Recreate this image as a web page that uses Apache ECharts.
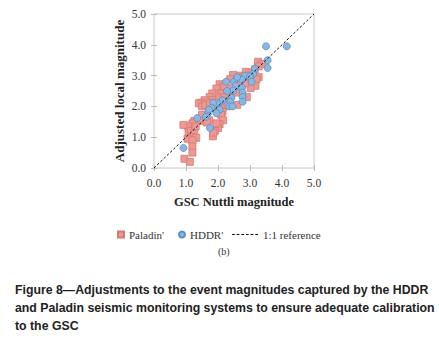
<!DOCTYPE html>
<html><head><meta charset="utf-8">
<script src="https://cdn.jsdelivr.net/npm/echarts@6/dist/echarts.min.js"></script>
<style>html,body{margin:0;padding:0;background:#fff;}#c{width:439px;height:351px;}</style>
</head><body><div id="c"></div>
<script>
const xTicks = [0, 1, 2, 3, 4, 5];
const paladin = [[3.25,3.45],[3.37,3.38],[3.27,3.3],[3.15,3.2],[2.87,3.12],[2.65,3.0],[2.47,3.02],[2.95,2.88],[3.27,2.95],[3.2,2.88],[3.17,2.67],[3.02,2.6],[2.63,2.78],[2.38,2.88],[2.05,2.72],[2.14,2.62],[2.3,2.6],[1.95,2.58],[2.1,2.42],[1.93,2.32],[1.82,2.42],[1.74,2.3],[1.82,2.2],[1.58,2.2],[1.47,2.12],[1.4,2.1],[1.5,2.0],[1.6,2.05],[1.98,2.0],[2.16,1.96],[2.14,1.83],[2.1,1.72],[2.16,1.55],[2.05,1.42],[2.0,1.3],[1.9,1.2],[1.84,1.03],[1.85,1.15],[1.72,1.55],[1.65,1.48],[1.5,1.72],[1.42,1.53],[1.26,1.53],[1.2,1.45],[1.05,1.37],[0.92,1.4],[1.08,1.17],[1.15,1.2],[1.26,1.14],[1.18,1.0],[1.32,0.98],[1.05,0.95],[1.2,0.9],[1.2,0.7],[1.2,0.5],[0.95,0.3],[1.12,0.2],[2.55,2.55],[2.4,2.4],[2.85,2.75],[2.2,2.3],[2.9,2.3],[2.6,2.05],[1.75,2.1],[2.3,2.05],[2.8,2.95],[2.6,2.45],[3.05,3.1],[2.2,2.65],[1.3,1.35],[1.95,1.45]];
const hddr = [[3.5,3.95],[4.15,3.95],[3.55,3.5],[3.55,3.25],[3.15,3.22],[3.1,3.05],[2.85,3.0],[3.0,2.98],[2.75,2.87],[3.05,2.8],[2.5,2.8],[2.25,2.8],[2.75,2.6],[2.55,2.68],[2.48,2.52],[2.28,2.5],[2.77,2.45],[2.77,2.3],[2.77,2.15],[2.42,2.28],[2.38,2.15],[2.35,2.0],[2.45,2.0],[2.03,2.1],[1.85,2.12],[2.05,1.9],[1.95,1.78],[1.8,1.95],[1.68,1.77],[1.72,1.9],[1.62,1.66],[1.35,1.62],[1.75,1.3],[0.92,0.65],[2.15,2.2],[2.6,2.95]];
const refLine = [[0,0],[5,5]];
const seriesNames = ["Paladin'", "HDDR'", "1:1 reference"];
const xTitle = 'GSC Nuttli magnitude';
const yTitle = 'Adjusted local magnitude';
const captionLines = ['Figure 8\u2014Adjustments to the event magnitudes captured by the HDDR','and Paladin seismic monitoring systems to ensure adequate calibration','to the GSC'];

const serif = 'Liberation Serif';
const chart = echarts.init(document.getElementById('c'), null, {renderer: 'svg'});
const axisCommon = {
  type: 'value', min: 0, max: 5, interval: 1,
  axisLine: {show: false},
  axisTick: {show: true, inside: true, length: 3, lineStyle: {color: '#bbbbbb'}},
  splitLine: {show: false}
};
const legendText = {fontFamily: serif, fontSize: 11, color: '#333'};
const legendTop = 224;
chart.setOption({
  animation: false,
  grid: {left: 154, top: 14, width: 160, height: 154, show: true, borderColor: '#c8c8c8', borderWidth: 1},
  xAxis: [
    Object.assign({}, axisCommon, {position: 'bottom', name: xTitle, nameLocation: 'middle', nameGap: 27,
      nameTextStyle: {fontFamily: serif, fontWeight: 'bold', fontSize: 12.5, color: '#222'},
      axisLabel: {formatter: v => v.toFixed(1), fontFamily: serif, fontSize: 11.5, color: '#333', margin: 9}}),
    Object.assign({}, axisCommon, {position: 'top', axisLabel: {show: false}})
  ],
  yAxis: [
    Object.assign({}, axisCommon, {position: 'left', name: yTitle, nameLocation: 'middle', nameGap: 28,
      nameTextStyle: {fontFamily: serif, fontWeight: 'bold', fontSize: 13, color: '#222'},
      axisLabel: {formatter: v => v.toFixed(1), fontFamily: serif, fontSize: 11.5, color: '#333', margin: 8}}),
    Object.assign({}, axisCommon, {position: 'right', axisLabel: {show: false}})
  ],
  legend: [
    {left: 112, top: legendTop, itemWidth: 6, itemHeight: 6, itemGap: 6, textStyle: legendText,
      data: [{name: seriesNames[0], icon: 'rect'}]},
    {left: 173, top: legendTop, itemWidth: 6, itemHeight: 6, itemGap: 6, textStyle: legendText,
      data: [{name: seriesNames[1], icon: 'circle'}]},
    {left: 227, top: legendTop, itemWidth: 26, itemHeight: 1.2, textStyle: legendText,
      data: [{name: seriesNames[2], icon: 'path://M0 0h3v1h-3zM5 0h3v1h-3zM10 0h3v1h-3zM15 0h3v1h-3zM20 0h3v1h-3zM25 0h3v1h-3z'}]}
  ],
  series: [
    {name: seriesNames[0], type: 'scatter', data: paladin, symbol: 'rect', symbolSize: 7,
      itemStyle: {color: '#ec9994', borderColor: '#d97871', borderWidth: 0.8, opacity: 1}},
    {name: seriesNames[1], type: 'scatter', data: hddr, symbol: 'circle', symbolSize: 7,
      itemStyle: {color: '#8ab6e0', borderColor: '#5b8ec6', borderWidth: 0.8, opacity: 1}},
    {name: seriesNames[2], type: 'line', data: refLine, symbol: 'none', z: 5,
      lineStyle: {color: '#111', width: 1, type: [2.5, 2]}, itemStyle: {color: '#111'}}
  ],
  graphic: [
    {type: 'text', left: 218, top: 246, style: {text: '(b)', font: '10px "Liberation Serif"', fill: '#333'}},
    {type: 'text', left: 15, top: 281, style: {text: captionLines.join('\n'), font: 'bold 12.3px "Liberation Sans"', lineHeight: 18, fill: '#222'}}
  ]
});
</script></body></html>
